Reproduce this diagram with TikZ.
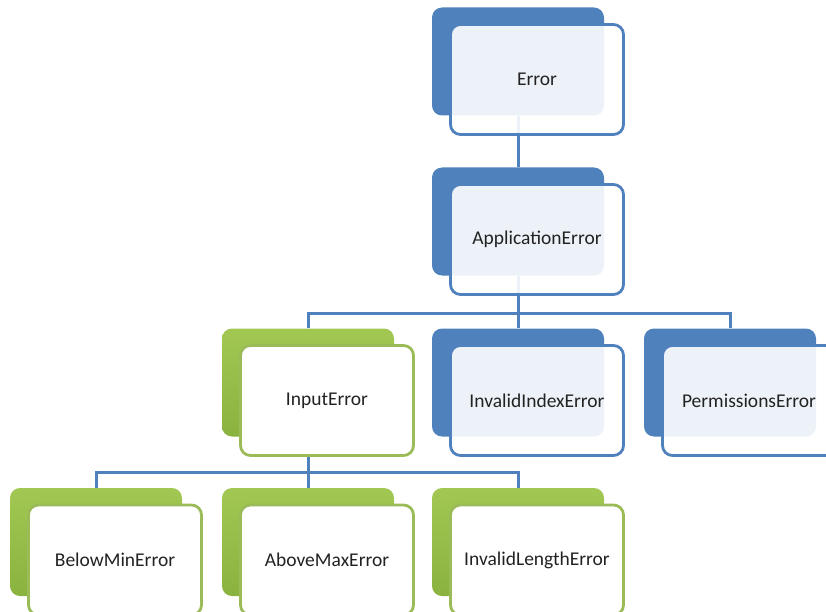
\documentclass[tikz,border=0pt]{standalone}
\usepackage{fontspec}
\setmainfont{Carlito}
\usetikzlibrary{calc}
\definecolor{obl}{HTML}{4F81BD}
\definecolor{ogr}{HTML}{9BBB59}
\definecolor{ogrtop}{HTML}{A2C853}
\definecolor{ogrbot}{HTML}{8AB23F}
\definecolor{txt}{HTML}{222222}
\tikzset{
  backbox/.style={rounded corners=10pt, minimum width=172pt, minimum height=108pt, inner sep=0pt},
  backblue/.style={backbox, fill=obl},
  backgreen/.style={backbox, top color=ogrtop, bottom color=ogrbot, draw=none},
  frontbox/.style={rounded corners=10pt, minimum width=173pt, minimum height=110pt, inner sep=0pt,
    line width=2.8pt, font=\fontsize{19.5}{22}\selectfont, text=txt},
  frontblue/.style={frontbox, draw=obl, fill=white, fill opacity=0.9, text opacity=1},
  frontgreen/.style={frontbox, draw=ogr, fill=white},
  conn/.style={draw=obl, line width=3pt}
}
\begin{document}
\begin{tikzpicture}[x=1pt, y=-1pt]
\useasboundingbox (0,0) rectangle (826,612);
\clip (0,0) rectangle (826,612);
% back box centres
\coordinate (errc) at (518,61.5);
\coordinate (appc) at (518,221.5);
\coordinate (inpc) at (308,382.5);
\coordinate (idxc) at (518,382.5);
\coordinate (perc) at (730,382.5);
\coordinate (belc) at (96,542);
\coordinate (abvc) at (308,542);
\coordinate (lenc) at (518,542);
% back boxes
\node[backblue] (errb) at (errc) {};
\node[backblue] (appb) at (appc) {};
\node[backgreen] (inpb) at (inpc) {};
\node[backblue] (idxb) at (idxc) {};
\node[backblue] (perb) at (perc) {};
\node[backgreen] (belb) at (belc) {};
\node[backgreen] (abvb) at (abvc) {};
\node[backgreen] (lenb) at (lenc) {};
% connectors
\draw[conn] (errb.south) -- (appb.north);
\draw[conn] (appb.south) -- (idxb.north);
\draw[conn] (inpb.north) -- ++(0,-15) -| (perb.north);
\draw[conn] (inpb.south) -- (abvb.north);
\draw[conn] (belb.north) -- ++(0,-15) -| (lenb.north);
% front boxes
\node[frontblue] (err) at ($(errc)+(19,18)$) {Error};
\node[frontblue] (app) at ($(appc)+(19,18)$) {ApplicationError};
\node[frontgreen] (inp) at ($(inpc)+(19,18)$) {InputError};
\node[frontblue] (idx) at ($(idxc)+(19,18)$) {InvalidIndexError};
\node[frontblue] (per) at ($(perc)+(19,18)$) {PermissionsError};
\node[frontgreen] (bel) at ($(belc)+(19,18)$) {BelowMinError};
\node[frontgreen] (abv) at ($(abvc)+(19,18)$) {AboveMaxError};
\node[frontgreen] (len) at ($(lenc)+(19,18)$) {InvalidLengthError};
\end{tikzpicture}
\end{document}
